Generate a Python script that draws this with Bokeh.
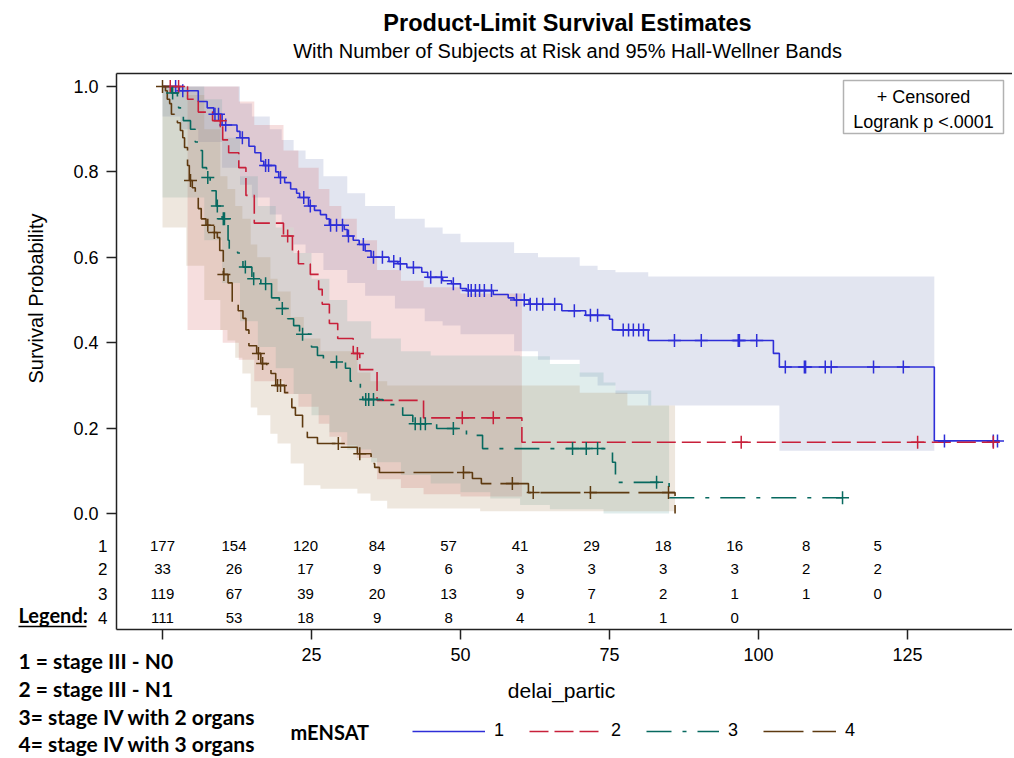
import numpy as np
from math import pi
from bokeh.plotting import figure
from bokeh.models import (Range1d, LinearAxis, FixedTicker, PrintfTickFormatter, Label,
                          Legend, LegendItem, ColumnDataSource, Arrow, BoxAnnotation)
from bokeh.core.properties import value
from bokeh.embed import file_html
from bokeh.resources import INLINE

# ---------------------------------------------------------------- data
groups = ["1", "2", "3", "4"]
group_names = ["1 = stage III - N0", "2 = stage III - N1",
               "3= stage IV with 2 organs", "4= stage IV with 3 organs"]

# Kaplan-Meier step curves (time of step, survival after step)
g1_time = [0, 2.8, 6.0, 7.5, 8.6, 10.0, 12.5, 13.0, 14.5, 15.5, 16.5, 17.0, 19.0, 19.5,
           20.5, 21.5, 22.5, 23.0, 24.5, 25.5, 26.5, 27.5, 28.0, 30.5, 31.0, 32.0, 33.0,
           34.0, 35.0, 38.0, 39.5, 41.0, 43.5, 44.5, 47.0, 48.5, 50.0, 51.0, 55.5, 58.0,
           59.0, 61.5, 67.0, 71.0, 75.0, 75.5, 81.5, 102.5, 103.5, 129.5, 140.3]
g1_surv = [1.0, 0.99, 0.965, 0.95, 0.935, 0.91, 0.895, 0.88, 0.86, 0.845, 0.825, 0.815,
           0.80, 0.787, 0.775, 0.76, 0.75, 0.74, 0.72, 0.71, 0.70, 0.69, 0.675, 0.665,
           0.65, 0.64, 0.63, 0.615, 0.60, 0.59, 0.585, 0.576, 0.565, 0.553, 0.545, 0.538,
           0.527, 0.522, 0.513, 0.505, 0.50, 0.49, 0.475, 0.464, 0.455, 0.43, 0.405,
           0.375, 0.343, 0.17, 0.17]
g1_cens = [2.2, 3.4, 8.8, 9.4, 10.6, 13.4, 17.3, 17.8, 19.8, 23.7, 24.8, 28.2, 29.2, 30.2,
           31.2, 33.7, 35.4, 36.9, 38.8, 39.9, 42.1, 45.0, 46.8, 48.8, 51.3, 51.8, 52.5,
           53.2, 54.0, 55.2, 59.4, 60.7, 61.7, 62.8, 63.8, 65.8, 69.1, 71.8, 73.0, 77.3,
           78.2, 79.0, 79.9, 80.7, 85.9, 90.4, 96.6, 96.8, 99.7, 104.5, 107.7, 107.9,
           111.2, 112.2, 119.3, 124.3, 131.2, 139.4, 140.1]

g2_time = [0, 4.2, 6.0, 8.4, 10.1, 11.1, 12.8, 14.0, 15.4, 20.3, 21.8, 22.8, 24.8, 26.2,
           26.8, 28.0, 29.4, 32.0, 33.1, 36.0, 43.8, 60.3, 139.8]
g2_surv = [1.0, 0.97, 0.94, 0.92, 0.875, 0.845, 0.81, 0.745, 0.68, 0.65, 0.615, 0.585,
           0.56, 0.525, 0.49, 0.445, 0.41, 0.375, 0.337, 0.265, 0.224, 0.167, 0.167]
g2_cens = [1.3, 2.7, 9.7, 21.0, 32.7, 50.3, 55.5, 97.1, 126.7, 139.4]

g3_time = [0, 1.5, 2.5, 2.7, 3.5, 4.7, 5.5, 6.0, 6.7, 7.4, 8.0, 9.0, 10.0, 10.5, 11.0,
           11.2, 12.6, 13.5, 15.0, 16.5, 18.3, 19.6, 21.0, 22.0, 23.0, 25.0, 26.0, 27.0,
           30.7, 31.5, 33.2, 33.6, 37.0, 40.3, 42.0, 46.0, 51.0, 53.7, 75.5, 76.0, 76.5,
           85.0, 114.1]
g3_surv = [1.0, 0.985, 0.975, 0.95, 0.92, 0.90, 0.87, 0.85, 0.81, 0.787, 0.756, 0.72,
           0.69, 0.68, 0.64, 0.62, 0.61, 0.577, 0.55, 0.538, 0.505, 0.48, 0.456, 0.44,
           0.42, 0.39, 0.37, 0.355, 0.34, 0.31, 0.295, 0.267, 0.255, 0.23, 0.21, 0.199,
           0.183, 0.152, 0.12, 0.09, 0.073, 0.037, 0.037]
g3_cens = [1.7, 7.6, 9.2, 10.2, 10.4, 13.9, 15.3, 17.3, 20.1, 23.5, 29.2, 34.1, 34.6,
           35.4, 42.4, 43.3, 44.1, 48.8, 68.8, 71.1, 73.0, 82.9, 114.1]

g4_time = [0, 0.5, 0.8, 1.2, 1.5, 2.0, 2.5, 3.0, 3.4, 3.7, 4.2, 4.5, 5.0, 5.5, 6.0, 6.5,
           7.3, 8.5, 9.2, 9.6, 10.2, 11.0, 11.7, 12.7, 13.5, 14.0, 14.5, 15.8, 16.5, 17.5,
           18.2, 19.0, 20.5, 21.7, 22.3, 23.5, 24.3, 26.0, 29.7, 32.7, 35.0, 35.6, 36.4,
           52.0, 53.5, 61.4, 86.0]
g4_surv = [1.0, 0.99, 0.97, 0.96, 0.935, 0.925, 0.915, 0.897, 0.88, 0.857, 0.815, 0.78,
           0.763, 0.74, 0.714, 0.69, 0.675, 0.658, 0.646, 0.616, 0.56, 0.54, 0.49, 0.475,
           0.457, 0.43, 0.393, 0.375, 0.351, 0.347, 0.328, 0.30, 0.283, 0.248, 0.23, 0.19,
           0.178, 0.164, 0.155, 0.14, 0.117, 0.108, 0.096, 0.082, 0.07, 0.049, 0.0]
g4_cens = [0.0, 4.7, 7.6, 8.7, 10.3, 16.1, 16.8, 19.3, 19.8, 29.5, 33.1, 50.5, 58.7,
           62.2, 71.8, 84.9]

# 95% Hall-Wellner bands (step after)
b1_time = [0, 3, 6, 10, 13, 15, 18, 20, 22, 24, 27, 31, 34, 39, 44, 47, 50, 59, 63, 70,
           73, 76, 81.5, 102.5, 103.5, 129.5]
b1_lo = [0.93, 0.90, 0.87, 0.81, 0.77, 0.74, 0.70, 0.67, 0.63, 0.61, 0.57, 0.54, 0.51,
         0.48, 0.45, 0.44, 0.42, 0.38, 0.36, 0.32, 0.30, 0.28, 0.253, 0.253, 0.147, 0.147]
b1_hi = [1.0, 1.0, 1.0, 1.0, 0.96, 0.93, 0.90, 0.875, 0.85, 0.83, 0.79, 0.75, 0.72, 0.69,
         0.67, 0.655, 0.635, 0.61, 0.60, 0.58, 0.57, 0.565, 0.555, 0.555, 0.555, 0.555]

b2_time = [4.2, 6.0, 8.4, 10.1, 12.8, 15.4, 20.3, 22.8, 26.2, 28.0, 30.0, 32.6, 36.0,
           40.0, 43.8, 50.0, 60.3]
b2_lo = [0.43, 0.43, 0.43, 0.40, 0.36, 0.31, 0.28, 0.25, 0.21, 0.18, 0.16, 0.13, 0.08,
         0.06, 0.045, 0.04, 0.04]
b2_hi = [1.0, 1.0, 1.0, 1.0, 0.965, 0.91, 0.85, 0.81, 0.76, 0.72, 0.69, 0.64, 0.57,
         0.545, 0.53, 0.515, 0.515]

b3_time = [0, 4, 7, 10, 13, 16, 19, 22, 25, 28, 31, 35, 40, 45, 50, 55, 60, 65, 70, 74,
           76, 82, 85]
b3_lo = [0.74, 0.74, 0.64, 0.54, 0.45, 0.39, 0.34, 0.28, 0.23, 0.19, 0.15, 0.12, 0.09,
         0.07, 0.05, 0.035, 0.02, 0.01, 0.01, 0.0, 0.0, 0.0, 0.0]
b3_hi = [1.0, 1.0, 0.97, 0.88, 0.79, 0.72, 0.67, 0.61, 0.55, 0.50, 0.45, 0.41, 0.38,
         0.37, 0.37, 0.37, 0.368, 0.35, 0.33, 0.307, 0.288, 0.253, 0.253]

b4_time = [0, 4, 7, 9.7, 10.9, 12.2, 13.4, 14.8, 15.9, 18.1, 19.3, 21.5, 23.7, 26.5,
           32.7, 34.9, 37.7, 53.3, 70, 78, 86]
b4_lo = [0.67, 0.58, 0.50, 0.43, 0.405, 0.365, 0.328, 0.248, 0.23, 0.187, 0.164, 0.117,
         0.066, 0.058, 0.047, 0.03, 0.012, 0.005, 0.005, 0.005, 0.005]
b4_hi = [1.0, 0.98, 0.90, 0.79, 0.76, 0.72, 0.69, 0.63, 0.60, 0.55, 0.52, 0.46, 0.41,
         0.38, 0.33, 0.31, 0.30, 0.30, 0.283, 0.253, 0.253]

# number of subjects at risk
risk_times = [0, 12, 24, 36, 48, 60, 72, 84, 96, 108, 120]
risk_g1 = [177, 154, 120, 84, 57, 41, 29, 18, 16, 8, 5]
risk_g2 = [33, 26, 17, 9, 6, 3, 3, 3, 3, 2, 2]
risk_g3 = [119, 67, 39, 20, 13, 9, 7, 2, 1, 1, 0]
risk_g4 = [111, 53, 18, 9, 8, 4, 1, 1, 0]

x_ticks = [0, 25, 50, 75, 100, 125]
y_ticks = [0.0, 0.2, 0.4, 0.6, 0.8, 1.0]

# ---------------------------------------------------------------- styles / layout
line_colors = ["#2E2ED8", "#C8203A", "#07695F", "#5E3A10"]
band_colors = ["#6F7EB3", "#D05B5B", "#66A5A0", "#A9865B"]
dashes = ["solid", "19 6", "25 11 4 11", "40 9"]

W, H = 1012, 756
# the plotting area: left/right/top/bottom edges in canvas pixels
BL, BR, BT, BB = 116, 1012, 73, 629
T0_PX, PX_PER_T = 162.0, 5.96        # where t=0 sits, pixels per time unit
S0_PY, PX_PER_S = 513.0, 427.0       # where S=0 sits, pixels per unit survival


def dx(px):
    return (px - T0_PX) / PX_PER_T


def dy(py):
    return (S0_PY - py) / PX_PER_S


FONT = "Liberation Sans"
BFONT = "Lato"

# the frame fills the canvas; the axes sit at fixed locations around the plot box
p = figure(width=W, height=H, x_range=Range1d(dx(0), dx(W)), y_range=Range1d(dy(H), dy(0)),
           x_axis_type=None, y_axis_type=None, output_backend="svg",
           toolbar_location=None, min_border=0, min_border_left=0, min_border_right=0,
           min_border_top=0, min_border_bottom=0,
           outline_line_color=None, background_fill_color="white",
           border_fill_color="white")

yaxis = LinearAxis(ticker=FixedTicker(ticks=y_ticks), fixed_location=dx(BL),
                   bounds=(dy(BB), dy(BT)), formatter=PrintfTickFormatter(format="%.1f"))
xaxis = LinearAxis(ticker=FixedTicker(ticks=x_ticks), fixed_location=dy(BB),
                   bounds=(dx(BL), dx(BR)), major_label_overrides={0: ""})
topaxis = LinearAxis(ticker=FixedTicker(ticks=[]), fixed_location=dy(BT),
                     bounds=(dx(BL), dx(BR)), major_label_text_font_size="0px",
                     major_tick_out=0, major_tick_in=0, minor_tick_out=0, minor_tick_in=0)
for ax in (yaxis, xaxis, topaxis):
    ax.axis_line_color = "#222222"
    ax.axis_line_width = 1.5
    ax.major_tick_line_color = "#222222"
    ax.major_tick_line_width = 1.5
    ax.minor_tick_line_color = None
    ax.major_label_text_font = FONT
    ax.major_label_text_color = "black"
for ax in (yaxis, xaxis):
    ax.major_tick_out = 10
    ax.major_tick_in = 0
    ax.major_label_text_font_size = "18px"
yaxis.major_label_standoff = 8
xaxis.major_label_standoff = 8
p.add_layout(yaxis, "left")
p.add_layout(xaxis, "below")
p.add_layout(topaxis, "above")

# confidence bands
bands = [(b1_time, b1_lo, b1_hi), (b2_time, b2_lo, b2_hi),
         (b3_time, b3_lo, b3_hi), (b4_time, b4_lo, b4_hi)]
for (bt, lo, hi), fc in zip(bands, band_colors):
    p.varea_step(x=bt, y1=lo, y2=hi, step_mode="after", fill_color=fc, fill_alpha=0.2)

# survival curves
curves = [(g1_time, g1_surv, g1_cens), (g2_time, g2_surv, g2_cens),
          (g3_time, g3_surv, g3_cens), (g4_time, g4_surv, g4_cens)]
renderers = []
for (tt, ss, cc), lc, dash in zip(curves, line_colors, dashes):
    r = p.step(x=tt, y=ss, mode="after", line_color=lc, line_width=1.6, line_dash=dash)
    renderers.append(r)
for (tt, ss, cc), lc in zip(curves, line_colors):
    idx = np.searchsorted(np.array(tt), np.array(cc), side="right") - 1
    cy = np.array(ss)[idx]
    p.scatter(x=cc, y=cy, marker="cross", size=13, line_color=lc, line_width=1.5)

# at-risk table
row_py = [545, 568, 593, 617]
for counts, py in zip([risk_g1, risk_g2, risk_g3, risk_g4], row_py):
    src = ColumnDataSource(dict(x=risk_times[:len(counts)],
                                y=[dy(py)] * len(counts),
                                t=[str(c) for c in counts]))
    p.text(x="x", y="y", text="t", source=src, text_font=value(FONT),
           text_font_size="15px", text_align="center", text_baseline="middle",
           text_color="black")


def label(px, py, text, size, font=FONT, style="normal", align="left", **kw):
    p.add_layout(Label(x=dx(px), y=dy(py), text=text, text_font=font,
                       text_font_size=size, text_font_style=style, text_align=align,
                       text_baseline="middle", text_color="black", **kw))


for g, py in zip(groups, row_py):
    label(107, py, g, "17px", align="right")

# titles and axis titles
label(567, 22, "Product-Limit Survival Estimates", "23.5px", style="bold", align="center")
label(567, 50, "With Number of Subjects at Risk and 95% Hall-Wellner Bands", "20px",
      align="center")
label(35, 298, "Survival Probability", "20px", align="center", angle=pi / 2)
label(561, 690, "delai_partic", "21px", align="center")

# inset box
p.add_layout(BoxAnnotation(left=dx(843), right=dx(1003), top=dy(80), bottom=dy(133),
                           fill_color="white", fill_alpha=1.0, line_color="black",
                           line_width=1.5, level="overlay"))
label(923, 96, "+ Censored", "18px", align="center", level="overlay")
label(923, 121, "Logrank p <.0001", "18px", align="center", level="overlay")

# left-bottom annotations
label(18, 614, "Legend:", "20px", font=BFONT, style="bold")
p.add_layout(Arrow(end=None, x_start=dx(18), y_start=dy(626), x_end=dx(86),
                   y_end=dy(626), line_width=1.5, line_color="black"))
for name, py in zip(group_names, [660, 688, 716, 743]):
    label(18, py, name, "21px", font=BFONT, style="bold")
label(290, 731, "mENSAT", "20px", font=BFONT, style="bold")

legend = Legend(items=[LegendItem(label=value(g), renderers=[r])
                       for g, r in zip(groups, renderers)],
                orientation="horizontal", location=(412, H - 720 - 21),
                glyph_width=73, glyph_height=20, label_standoff=9, spacing=15,
                label_height=20, padding=0, margin=0, border_line_color=None,
                background_fill_alpha=0, label_text_font=FONT,
                label_text_font_size="18px", label_text_color="black")
p.add_layout(legend, "center")

open("out.html", "w").write(file_html(p, INLINE))
